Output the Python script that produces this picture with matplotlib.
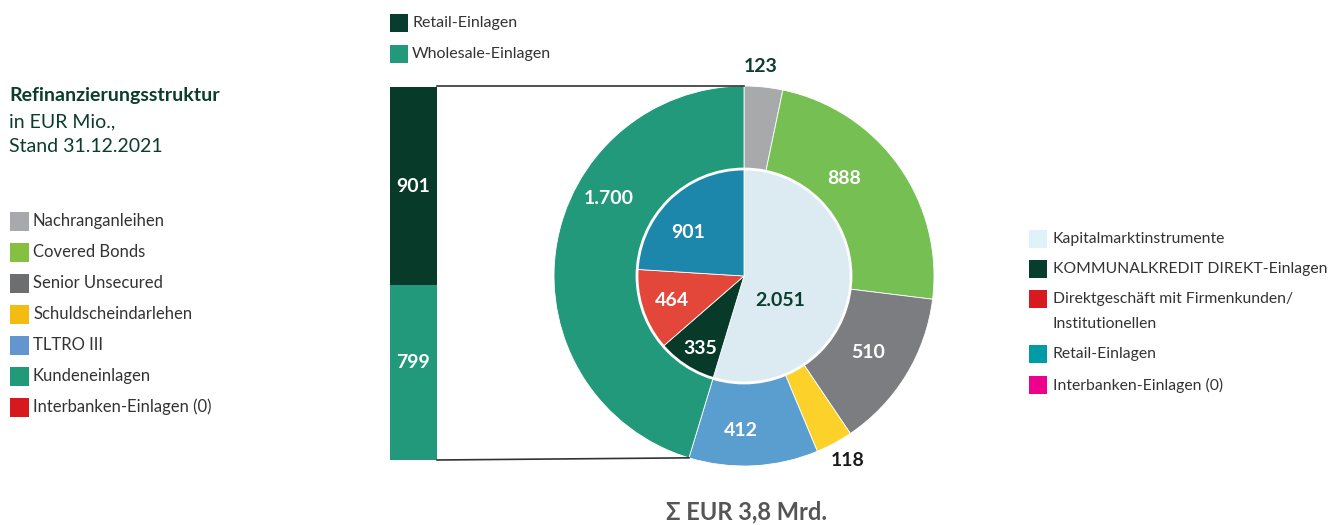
import numpy as np
import matplotlib
matplotlib.use("Agg")
import matplotlib.pyplot as plt
from matplotlib.patches import Rectangle, Circle

plt.rcParams['font.family'] = ['Lato', 'DejaVu Sans']

# ---------------- data ----------------
outer_labels = ["Nachranganleihen", "Covered Bonds", "Senior Unsecured",
                "Schuldscheindarlehen", "TLTRO III", "Kundeneinlagen"]
outer_values = [123, 888, 510, 118, 412, 1700]
outer_texts = ["123", "888", "510", "118", "412", "1.700"]

inner_labels = ["Kapitalmarktinstrumente", "KOMMUNALKREDIT DIREKT-Einlagen",
                "Direktgeschäft mit Firmenkunden/\nInstitutionellen", "Retail-Einlagen"]
inner_values = [2051, 335, 464, 901]
inner_texts = ["2.051", "335", "464", "901"]

bar_labels = ["Wholesale-Einlagen", "Retail-Einlagen"]
bar_values = [799, 901]
bar_texts = ["799", "901"]

left_legend = ["Nachranganleihen", "Covered Bonds", "Senior Unsecured",
               "Schuldscheindarlehen", "TLTRO III", "Kundeneinlagen",
               "Interbanken-Einlagen (0)"]
right_legend = ["Kapitalmarktinstrumente", "KOMMUNALKREDIT DIREKT-Einlagen",
                "Direktgeschäft mit Firmenkunden/\nInstitutionellen",
                "Retail-Einlagen", "Interbanken-Einlagen (0)"]
top_legend = ["Retail-Einlagen", "Wholesale-Einlagen"]

title_lines = ["Refinanzierungsstruktur", "in EUR Mio.,", "Stand 31.12.2021"]
total_text = "Σ EUR 3,8 Mrd."

# ---------------- styles ----------------
outer_colors = ["#A7A9AB", "#76BF52", "#7B7D80", "#FCD22A", "#5A9ECF", "#21997A"]
inner_colors = ["#DCEAF2", "#083A2A", "#E3473A", "#1D86AB"]
bar_colors = ["#21997A", "#083A2A"]
left_colors = ["#A7A9AC", "#86C040", "#6D6E70", "#F3BC12", "#6396CF", "#219B77", "#D7191F"]
right_colors = ["#DFF1F9", "#083C2C", "#D71920", "#009BA4", "#EC008C"]
top_colors = ["#083C2C", "#21997A"]

DARK = "#0B3D2C"
TXT = "#333333"

W, H = 1336, 525
fig = plt.figure(figsize=(W / 100, H / 100), dpi=100)
fig.patch.set_facecolor("white")

# stacked bar (own axes, drawn below the main axes)
bx0, bw, by0, bh = 390, 47, 460, 373
bax = fig.add_axes([bx0 / W, (H - by0) / H, bw / W, bh / H])
bottom = 0
for v, c in zip(bar_values, bar_colors):
    bax.bar(0, v, bottom=bottom, width=1.0, color=c)
    bottom += v
bax.set_xlim(-0.5, 0.5)
bax.set_ylim(0, sum(bar_values))
bax.axis("off")
bax.set_zorder(1)

ax = fig.add_axes([0, 0, 1, 1])
ax.set_zorder(2)

def Y(y):
    return H - y

cx, cy = 744, Y(276)
R_out, R_in = 190, 107

ax.pie(outer_values, colors=outer_colors, startangle=90, counterclock=False,
       radius=R_out, center=(cx, cy),
       wedgeprops=dict(width=R_out - R_in + 2, edgecolor="white", linewidth=0.6))
ax.pie(inner_values, colors=inner_colors, startangle=90, counterclock=False,
       radius=R_in, center=(cx, cy),
       wedgeprops=dict(edgecolor="white", linewidth=0.6))
ax.add_patch(Circle((cx, cy), R_in, fill=False, edgecolor="white", linewidth=2))

ax.set_xlim(0, W)
ax.set_ylim(0, H)
ax.set_aspect("auto")
ax.axis("off")

LFS = 14
outer_pos = [(761, 67), (844, 178), (868, 352), (848, 460), (741, 431), (609, 199)]
outer_tcol = [DARK, "white", "white", "#1a1a1a", "white", "white"]
for t, (x, y), c in zip(outer_texts, outer_pos, outer_tcol):
    ax.text(x, Y(y), t, ha="center", va="center", fontsize=LFS,
            fontweight="bold", color=c)

inner_pos = [(780, 300), (700, 348), (672, 300), (688, 232)]
inner_tcol = [DARK, "white", "white", "white"]
for t, (x, y), c in zip(inner_texts, inner_pos, inner_tcol):
    ax.text(x, Y(y), t, ha="center", va="center", fontsize=LFS,
            fontweight="bold", color=c)

bar_text_pos = [(413, 362), (413, 187)]
for t, (x, y) in zip(bar_texts, bar_text_pos):
    ax.text(x, Y(y), t, ha="center", va="center", fontsize=LFS,
            fontweight="bold", color="white")

# connector lines
top_y = cy + R_out
ax.plot([bx0 + bw, cx], [top_y, top_y], color="#333333", lw=1.2)
start_deg = 90 - 360 * sum(outer_values[:-1]) / sum(outer_values)
px = cx + R_out * np.cos(np.radians(start_deg))
py = cy + R_out * np.sin(np.radians(start_deg))
ax.plot([bx0 + bw, px], [Y(by0), py], color="#333333", lw=1.2)

# title
ax.text(9, Y(95), title_lines[0], ha="left", va="center", fontsize=14,
        fontweight="bold", color=DARK)
ax.text(9, Y(122), title_lines[1], ha="left", va="center", fontsize=14, color=DARK)
ax.text(9, Y(146), title_lines[2], ha="left", va="center", fontsize=14, color=DARK)

def legend(items, colors, x, ys, size=19, fs=12):
    for lab, c, y in zip(items, colors, ys):
        ax.add_patch(Rectangle((x, Y(y) - size / 2), size, size, color=c, lw=0))
        ax.text(x + size + 4, Y(y), lab, ha="left", va="center",
                fontsize=fs, color=TXT)

legend(left_legend, left_colors, 10, [221, 252, 283, 314, 345, 376, 407], fs=12)
legend(top_legend, top_colors, 390, [23, 54], size=18, fs=11.5)

for lab, c, y in zip(right_legend, right_colors, [239, 269, 299, 354, 385]):
    ax.add_patch(Rectangle((1029, Y(y) - 9), 18, 18, color=c, lw=0))
    lines = lab.split("\n")
    for i, ln in enumerate(lines):
        ax.text(1053, Y(y + 25 * i), ln, ha="left", va="center", fontsize=11.3, color=TXT)

ax.text(747, Y(512), total_text, ha="center", va="center", fontsize=17,
        fontweight="bold", color="#555555")

fig.savefig("out.png", dpi=100, facecolor="white")
